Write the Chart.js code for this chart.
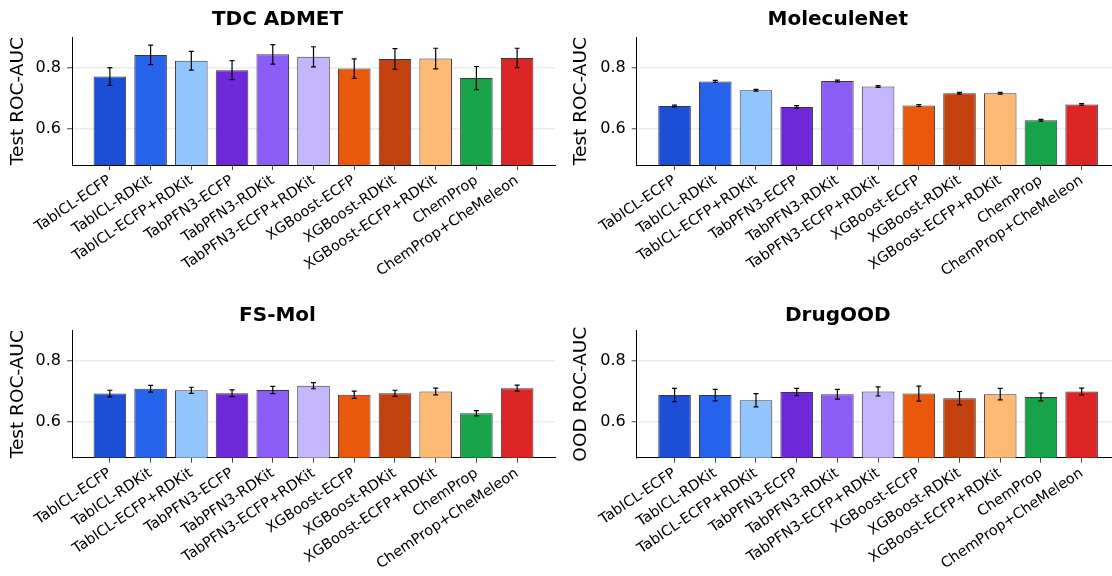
<!DOCTYPE html>
<html>
<head>
<meta charset="utf-8">
<script src="https://cdn.jsdelivr.net/npm/chart.js@4.4.1/dist/chart.umd.min.js"></script>
<style>
  html, body { margin: 0; padding: 0; background: #fff; overflow: hidden; width: 1112px; height: 576px; }
  canvas { position: absolute; }
</style>
</head>
<body>
<canvas id="c-tdc" width="556" height="290" style="left:0;top:0"></canvas>
<canvas id="c-mol" width="570" height="290" style="left:556px;top:0"></canvas>
<canvas id="c-fs" width="556" height="286" style="left:0;top:290px"></canvas>
<canvas id="c-ood" width="570" height="286" style="left:556px;top:290px"></canvas>
<script>
// models on the x axis, same order in every panel
const categories = ['TabICL-ECFP', 'TabICL-RDKit', 'TabICL-ECFP+RDKit', 'TabPFN3-ECFP', 'TabPFN3-RDKit',
  'TabPFN3-ECFP+RDKit', 'XGBoost-ECFP', 'XGBoost-RDKit', 'XGBoost-ECFP+RDKit', 'ChemProp', 'ChemProp+CheMeleon'];
const barColors = ['#1d4ed8', '#2563eb', '#93c5fd', '#6d28d9', '#8b5cf6', '#c4b5fd',
  '#ea580c', '#c2410c', '#fdba74', '#16a34a', '#dc2626'];
const yTicks = [0.6, 0.8];

// mean ROC-AUC and error (half-height of the whisker) per panel
const tdcMean = [0.771, 0.842, 0.823, 0.792, 0.844, 0.836, 0.797, 0.829, 0.830, 0.766, 0.832];
const tdcErr  = [0.029, 0.032, 0.031, 0.031, 0.032, 0.033, 0.032, 0.034, 0.034, 0.038, 0.032];
const molMean = [0.674, 0.755, 0.726, 0.671, 0.756, 0.738, 0.676, 0.716, 0.716, 0.627, 0.679];
const molErr  = [0.003, 0.003, 0.003, 0.004, 0.003, 0.003, 0.003, 0.003, 0.003, 0.003, 0.003];
const fsMean  = [0.692, 0.708, 0.703, 0.693, 0.704, 0.718, 0.688, 0.693, 0.699, 0.627, 0.710];
const fsErr   = [0.011, 0.011, 0.010, 0.011, 0.012, 0.010, 0.012, 0.010, 0.011, 0.009, 0.010];
const oodMean = [0.687, 0.687, 0.670, 0.697, 0.690, 0.699, 0.692, 0.677, 0.690, 0.681, 0.699];
const oodErr  = [0.022, 0.019, 0.022, 0.012, 0.016, 0.015, 0.025, 0.022, 0.019, 0.013, 0.011];

Chart.defaults.font.family = "'DejaVu Sans', sans-serif";

// whiskers drawn from the dataset's errors through the y scale
const errorBars = {
  id: 'errorBars',
  afterDatasetsDraw(chart) {
    const ds = chart.data.datasets[0];
    const meta = chart.getDatasetMeta(0);
    const y = chart.scales.y;
    const ctx = chart.ctx;
    ctx.save();
    ctx.strokeStyle = '#000';
    ctx.lineWidth = 1.2;
    meta.data.forEach(function(bar, i) {
      const v = ds.data[i].y, e = ds.errors[i];
      const top = y.getPixelForValue(v + e), bot = y.getPixelForValue(v - e);
      ctx.beginPath();
      ctx.moveTo(bar.x, top); ctx.lineTo(bar.x, bot);
      ctx.moveTo(bar.x - 2.5, top); ctx.lineTo(bar.x + 2.5, top);
      ctx.moveTo(bar.x - 2.5, bot); ctx.lineTo(bar.x + 2.5, bot);
      ctx.stroke();
    });
    ctx.restore();
  }
};

function makePanel(id, title, yTitle, means, errs, g) {
  return new Chart(document.getElementById(id), {
    type: 'bar',
    data: {
      datasets: [{
        data: means.map(function(v, i) { return { x: i, y: v }; }),
        errors: errs,
        backgroundColor: barColors,
        borderColor: 'rgba(20,20,35,0.85)',
        borderWidth: 1,
        borderSkipped: 'bottom',
        categoryPercentage: 0.8,
        barPercentage: 1
      }]
    },
    options: {
      responsive: false,
      animation: false,
      devicePixelRatio: 1,
      layout: { padding: { left: 0, right: g.padRight, top: 0, bottom: 0 } },
      plugins: {
        legend: { display: false },
        tooltip: { enabled: false },
        title: {
          display: true, text: title, color: '#000',
          font: { size: 20, weight: 'bold' },
          padding: { top: g.titleTop, bottom: g.titleBottom }
        }
      },
      scales: {
        x: {
          type: 'linear', min: -0.93, max: 10.93, offset: false,
          afterBuildTicks: function(s) { s.ticks = categories.map(function(c, i) { return { value: i }; }); },
          afterFit: function(s) { s.height = g.xHeight; },
          ticks: {
            autoSkip: false, maxRotation: 34, minRotation: 34, color: '#000',
            font: { size: 14.5 }, padding: 2,
            callback: function(v) { return categories[v]; }
          },
          grid: { offset: false, drawOnChartArea: false, tickLength: 5, tickColor: '#444', tickWidth: 1 },
          border: { color: '#000', width: 1 }
        },
        y: {
          min: 0.48, max: 0.90,
          afterBuildTicks: function(s) { s.ticks = yTicks.map(function(v) { return { value: v }; }); },
          afterFit: function(s) { s.width = g.yWidth; },
          ticks: { color: '#000', font: { size: 16 }, padding: 6, callback: function(v) { return v.toFixed(1); } },
          grid: { color: '#ececec', lineWidth: 1.5, tickLength: 5, tickColor: '#444', tickWidth: 1 },
          border: { color: '#000', width: 1 },
          title: { display: true, text: yTitle, color: '#000', font: { size: 18.5 }, padding: { top: g.yTitlePad, bottom: 0 } }
        }
      }
    },
    plugins: [errorBars]
  });
}

makePanel('c-tdc', 'TDC ADMET', 'Test ROC-AUC', tdcMean, tdcErr,
  { padRight: 1, yWidth: 72, xHeight: 125, titleTop: 8, titleBottom: 5.3, yTitlePad: 7.4 });
makePanel('c-mol', 'MoleculeNet', 'Test ROC-AUC', molMean, molErr,
  { padRight: 6.5, yWidth: 80.7, xHeight: 125, titleTop: 8, titleBottom: 5.3, yTitlePad: 13.9 });
makePanel('c-fs', 'FS-Mol', 'Test ROC-AUC', fsMean, fsErr,
  { padRight: 1, yWidth: 72, xHeight: 118.3, titleTop: 14, titleBottom: 2.7, yTitlePad: 7.4 });
makePanel('c-ood', 'DrugOOD', 'OOD ROC-AUC', oodMean, oodErr,
  { padRight: 6.5, yWidth: 80.7, xHeight: 118.3, titleTop: 14, titleBottom: 2.7, yTitlePad: 13.9 });
</script>
</body>
</html>
